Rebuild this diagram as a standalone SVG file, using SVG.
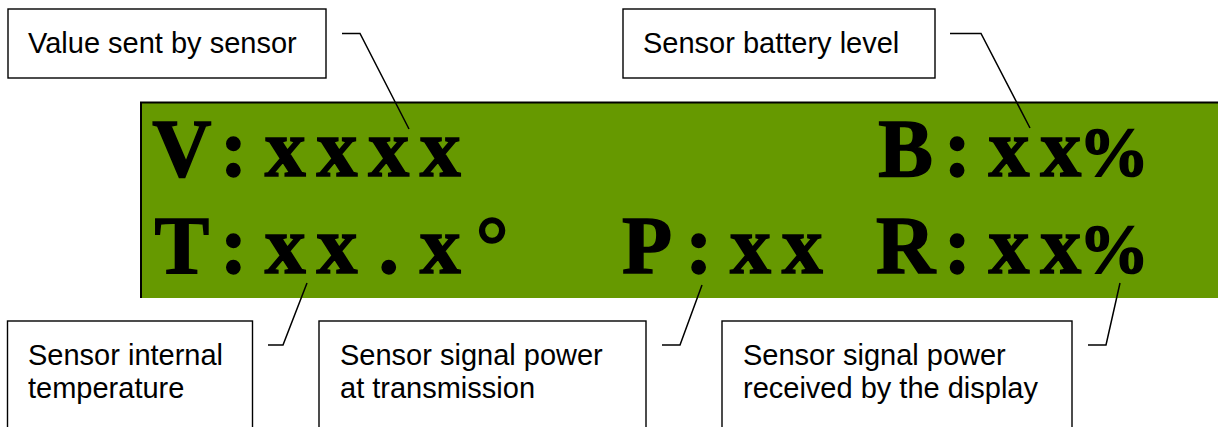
<svg xmlns="http://www.w3.org/2000/svg" width="1218" height="427" viewBox="0 0 1218 427">
<style>
.box{fill:#fff;stroke:#000;stroke-width:1.4}
.lbl{font-family:"Liberation Sans",Arial,sans-serif;font-size:29px;fill:#000}
.lcd{font-family:"Liberation Serif","Times New Roman",serif;font-weight:bold;font-size:82px;fill:#000;stroke:#000;stroke-width:1.5;text-anchor:middle}
.pct{font-size:70px}
.con{fill:none;stroke:#000;stroke-width:1.5}
</style>
<rect width="1218" height="427" fill="#fff"/>
<g id="display">
<rect x="141" y="102.5" width="1090" height="195.5" fill="#669900"/>
<polyline points="141,298 141,102.5 1220,102.5" fill="none" stroke="#000" stroke-width="2"/>
<text class="lcd" x="181.85 233.55 285.25 336.95 388.65 440.35" y="176">V:xxxx</text>
<text class="lcd" x="905.65 957.35 1009.05 1060.75" y="176">B:xx<tspan class="pct" x="1114">%</tspan></text>
<text class="lcd" x="181.85 233.55 285.25 336.95 388.65 440.35 492.05" y="273">T:xx.x°</text>
<text class="lcd" x="647.15 698.85 750.55 802.25" y="273">P:xx</text>
<text class="lcd" x="905.65 957.35 1009.05 1060.75" y="273">R:xx<tspan class="pct" x="1114">%</tspan></text>
</g>
<g id="n-value">
<rect class="box" x="8" y="9" width="318" height="69"/>
<text class="lbl" x="28" y="53">Value sent by sensor</text>
</g>
<g id="n-battery">
<rect class="box" x="623" y="9" width="312" height="69"/>
<text class="lbl" x="643" y="53">Sensor battery level</text>
</g>
<g id="n-temp">
<rect class="box" x="7.5" y="321" width="245" height="115"/>
<text class="lbl" x="28" y="365">Sensor internal</text>
<text class="lbl" x="28" y="398">temperature</text>
</g>
<g id="n-power">
<rect class="box" x="319" y="321" width="327" height="115"/>
<text class="lbl" x="340" y="365">Sensor signal power</text>
<text class="lbl" x="340" y="398">at transmission</text>
</g>
<g id="n-received">
<rect class="box" x="722" y="321" width="350" height="115"/>
<text class="lbl" x="743" y="365">Sensor signal power</text>
<text class="lbl" x="743" y="398">received by the display</text>
</g>
<g id="connectors">
<polyline class="con" points="342,33.5 360,33.5 409,129"/>
<polyline class="con" points="950,33.5 981,33.5 1030,128"/>
<polyline class="con" points="268,345 283,345 307,283"/>
<polyline class="con" points="662,345 680,345 702,285"/>
<polyline class="con" points="1088,345 1106,345 1120,283"/>
</g>
</svg>
